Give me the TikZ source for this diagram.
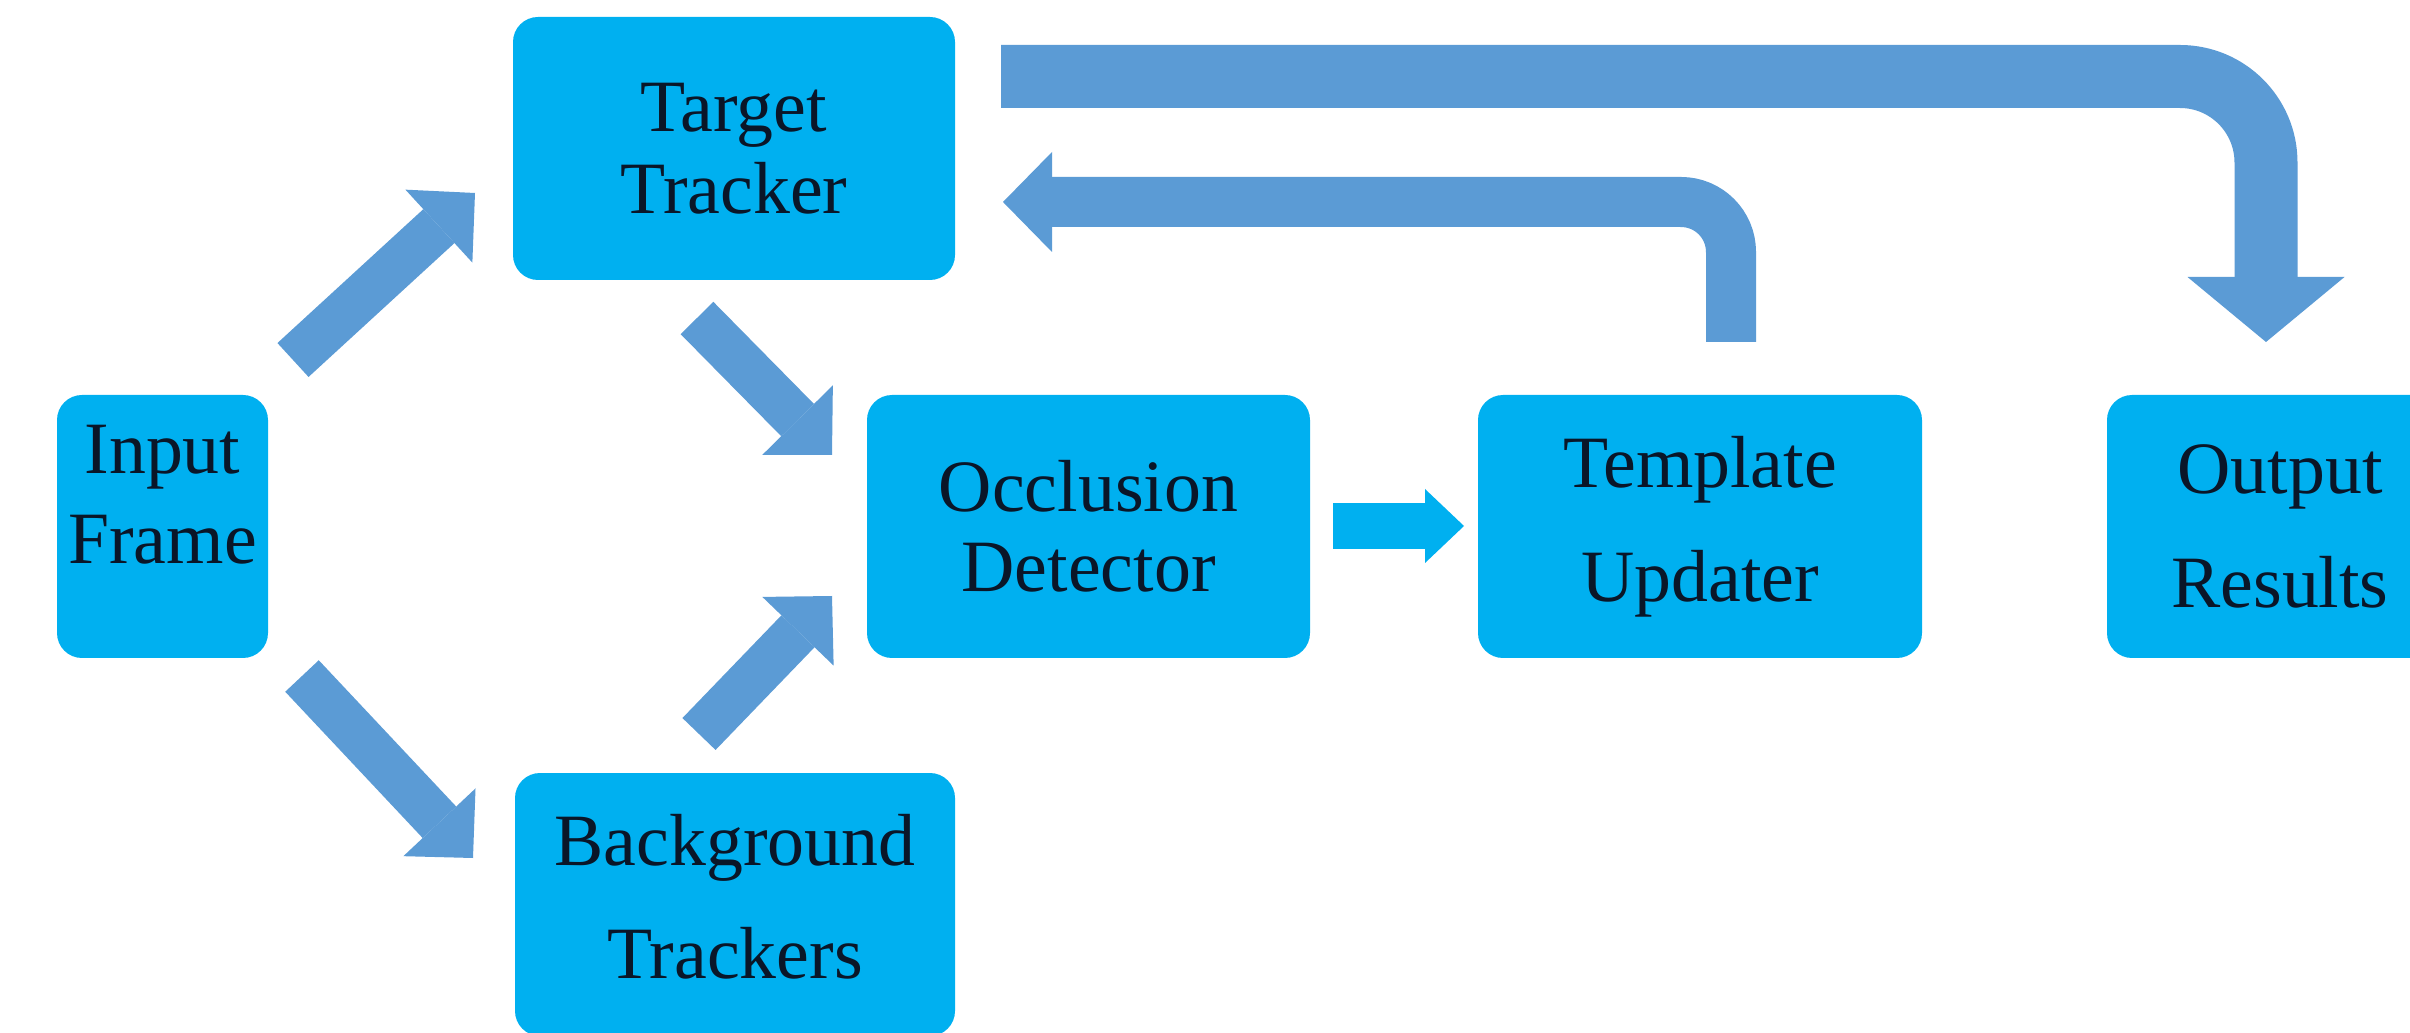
\documentclass[tikz,border=0pt]{standalone}
\usepackage{fontspec}
\setmainfont{Liberation Serif}
\usetikzlibrary{arrows.meta}
\definecolor{boxblue}{HTML}{00B0F0}
\definecolor{arrblue}{HTML}{5B9BD5}
\definecolor{txtdark}{HTML}{0A1628}
\begin{document}
\begin{tikzpicture}[x=0.1mm,y=-0.1mm,
  blk/.style={fill=boxblue, draw=none, rounded corners=2.5mm, minimum height=26.3mm,
    inner sep=0pt, align=center, text=txtdark},
  diag/.style={draw=arrblue, line width=4.6mm,
    -{Triangle[length=4.9mm,width=9.9mm,line width=0pt,fill=arrblue]}},
  flatarr/.style={draw=boxblue, line width=4.6mm,
    -{Triangle[length=3.9mm,width=7.4mm,line width=0pt,fill=boxblue]}},
  bigbend/.style={draw=arrblue, line width=6.3mm, rounded corners=8.6mm,
    -{Triangle[length=6.5mm,width=15.7mm,line width=0pt,fill=arrblue]}},
  smallbend/.style={draw=arrblue, line width=5mm, rounded corners=5mm,
    -{Triangle[length=4.9mm,width=10mm,line width=0pt,fill=arrblue]}},
]
\useasboundingbox (0,0) rectangle (2410,1033);
\clip (0,0) rectangle (2410,1033);
\fill[white] (0,0) rectangle (2410,1033);

% boxes
\node[blk, minimum width=21.1mm, font=\fontsize{21}{25.6}\selectfont] (in) at (162.5,526.5)
  {Input\\Frame\rule[-6.5mm]{0pt}{0pt}};
\node[blk, minimum width=44.2mm, font=\fontsize{21}{23.3}\selectfont] (tt) at (734,148.5)
  {Target\\Tracker};
\node[blk, minimum width=44.0mm, font=\fontsize{21}{32.2}\selectfont] (bg) at (735,904.5)
  {Background\\Trackers\rule[-1.6mm]{0pt}{0pt}};
\node[blk, minimum width=44.3mm, font=\fontsize{21}{22.8}\selectfont] (occ) at (1088.5,526.5)
  {Occlusion\\Detector};
\node[blk, minimum width=44.4mm, font=\fontsize{21}{32.4}\selectfont] (tpl) at (1700,526.5)
  {Template\\Updater};
\node[blk, minimum width=34.6mm, font=\fontsize{21}{32.4}\selectfont] (out) at (2280,526.5)
  {Output\\Results};

% connector end points
\coordinate (a1) at (293,360);   \coordinate (a2) at (475,193);
\coordinate (b1) at (697,318);   \coordinate (b2) at (832,455);
\coordinate (c1) at (699,734);   \coordinate (c2) at (832,596);
\coordinate (d1) at (302,676);   \coordinate (d2) at (473,858);
\coordinate (e1) at (1333,526);  \coordinate (e2) at (1464,526);
\coordinate (f1) at (1001,76.5); \coordinate (f2) at (2266,342);
\coordinate (g1) at (1731,342);  \coordinate (g2) at (1003,202);

% connectors
\draw[diag] (a1) -- (a2);
\draw[diag] (b1) -- (b2);
\draw[diag] (c1) -- (c2);
\draw[diag] (d1) -- (d2);
\draw[flatarr] (e1) -- (e2);
\draw[bigbend] (f1) -| (f2);
\draw[smallbend] (g1) |- (g2);
\end{tikzpicture}
\end{document}
